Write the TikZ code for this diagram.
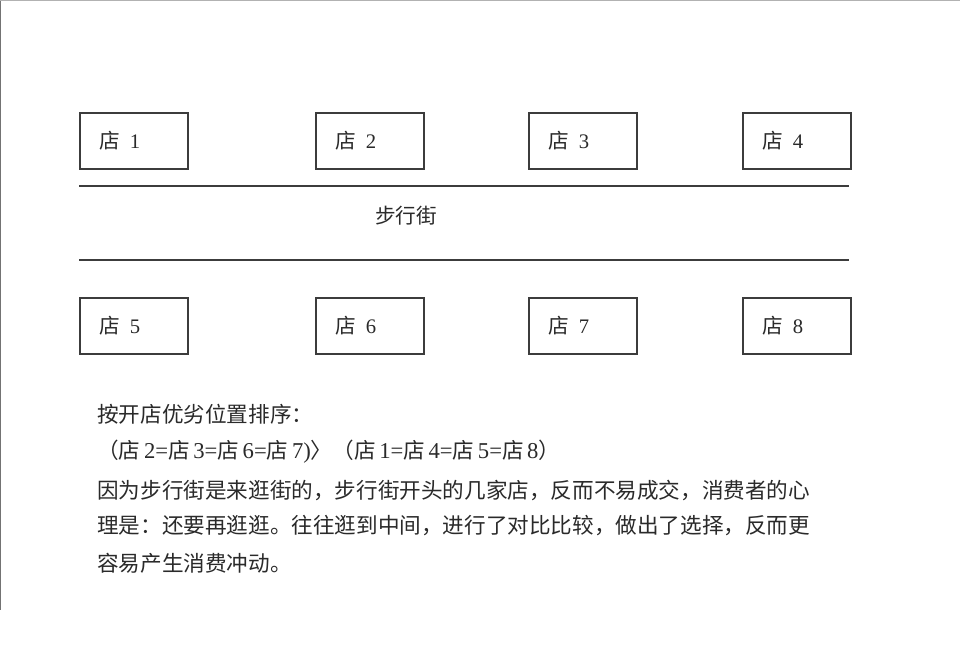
\documentclass[tikz,border=0pt]{standalone}
\usepackage{fontspec}
\setmainfont{Liberation Serif}
\newfontfamily\cjk{Noto Sans CJK SC}
\definecolor{ink}{HTML}{2A2A2A}
\definecolor{edge}{HTML}{3C3C3C}
\newcommand{\shoplabel}[1]{{\cjk 店}\hspace{0.45em}#1}
\begin{document}
\begin{tikzpicture}[x=0.75pt,y=-0.75pt,
  shop/.style={draw=edge, line width=1.3pt, anchor=north west,
    minimum height=42pt, inner xsep=15pt, inner ysep=0pt,
    text width=51pt, align=left, text=ink, font=\fontsize{15.5}{18}\selectfont},
  street/.style={draw=edge, line width=1.2pt},
  body/.style={anchor=west, inner sep=0pt, text=ink, font=\fontsize{16.2}{20}\selectfont\cjk}]
\fill[white] (0,0) rectangle (960,670);
\useasboundingbox (0,0) rectangle (960,670);
\draw[black!55, line width=1pt] (0.5,0) -- (0.5,610);
\draw[black!30, line width=0.8pt] (0,0.5) -- (960,0.5);
% shops
\node[shop] (s1) at (79,112) {\shoplabel{1}};
\node[shop] (s2) at (315,112) {\shoplabel{2}};
\node[shop] (s3) at (528,112) {\shoplabel{3}};
\node[shop] (s4) at (742,112) {\shoplabel{4}};
\node[shop] (s5) at (79,297) {\shoplabel{5}};
\node[shop] (s6) at (315,297) {\shoplabel{6}};
\node[shop] (s7) at (528,297) {\shoplabel{7}};
\node[shop] (s8) at (742,297) {\shoplabel{8}};
% street
\coordinate (a1) at (79,186);
\coordinate (a2) at (849,186);
\coordinate (b1) at (79,260);
\coordinate (b2) at (849,260);
\draw[street] (a1) -- (a2);
\draw[street] (b1) -- (b2);
\node[inner sep=0pt, text=ink, font=\fontsize{15.5}{18}\selectfont\cjk] (st) at (406,216) {步行街};
% text
\node[body] (l1) at (97,414) {按开店优劣位置排序：};
\node[body] (l2) at (97,452) {（店\,{\rmfamily\fontsize{17}{20}\selectfont 2=}店\,{\rmfamily\fontsize{17}{20}\selectfont 3=}店\,{\rmfamily\fontsize{17}{20}\selectfont 6=}店\,{\rmfamily\fontsize{17}{20}\selectfont 7)}〉（店\,{\rmfamily\fontsize{17}{20}\selectfont 1=}店\,{\rmfamily\fontsize{17}{20}\selectfont 4=}店\,{\rmfamily\fontsize{17}{20}\selectfont 5=}店\,{\rmfamily\fontsize{17}{20}\selectfont 8}）};
\node[body] (l3) at (97,490) {因为步行街是来逛街的，步行街开头的几家店，反而不易成交，消费者的心};
\node[body] (l4) at (97,526) {理是：还要再逛逛。往往逛到中间，进行了对比比较，做出了选择，反而更};
\node[body] (l5) at (97,563) {容易产生消费冲动。};
\end{tikzpicture}
\end{document}
